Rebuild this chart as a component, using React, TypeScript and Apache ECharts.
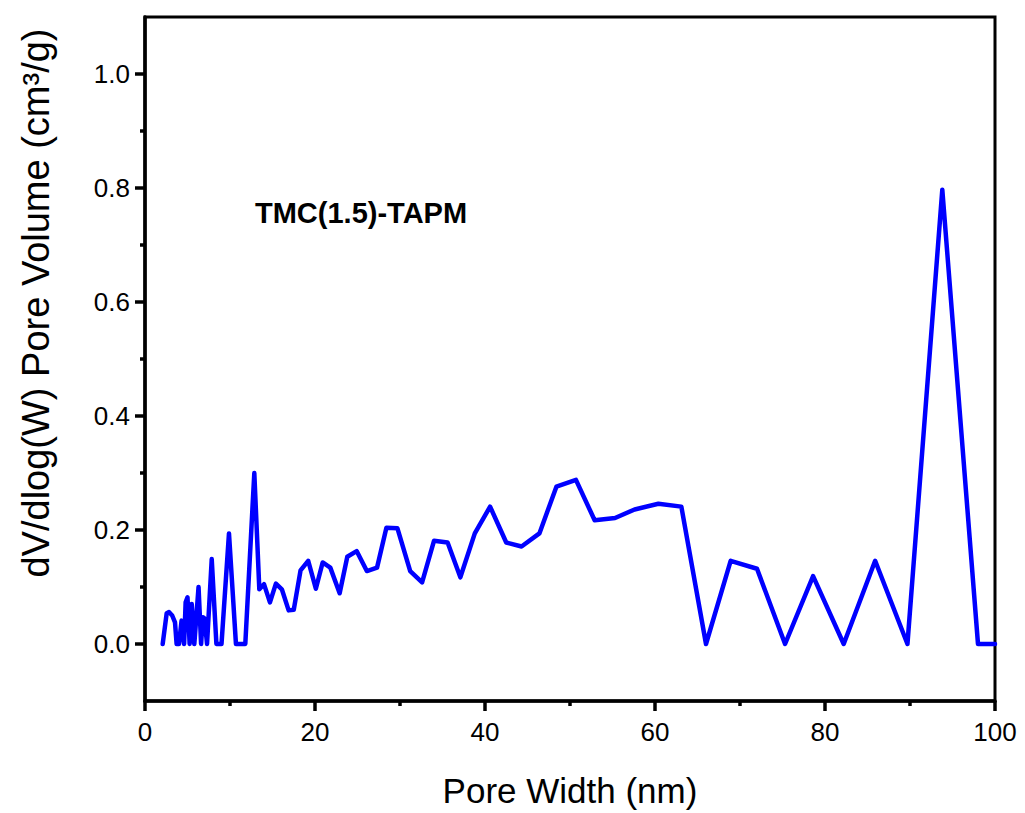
import React, { useEffect, useRef } from "react";
import * as echarts from "echarts";

const poreWidth = [
  2.08, 2.55, 2.82, 3.2, 3.53, 3.72, 4.0, 4.3, 4.6, 4.78, 5.0, 5.25, 5.5, 5.8, 6.3, 6.6, 6.8, 7.0, 7.3,
  7.85, 8.4, 9.0, 9.88, 10.7, 11.8, 12.86, 13.45, 14.0, 14.7, 15.4, 16.1, 16.9, 17.5, 18.3, 19.2, 20.1,
  20.9, 21.8, 22.9, 23.8, 24.9, 26.1, 27.3, 28.4, 29.7, 31.2, 32.6, 34.0, 35.6, 37.1, 38.8, 40.6, 42.5,
  44.3, 46.4, 48.4, 50.7, 52.9, 55.3, 57.6, 60.4, 63.1, 66.0, 68.9, 72.0, 75.3, 78.6, 82.2, 85.9, 89.7,
  93.8, 98.0, 100,
];
const poreVolume = [
  0, 0.054, 0.056, 0.05, 0.038, 0, 0, 0.041, 0, 0.073, 0.082, 0, 0.07, 0, 0.1, 0, 0.047, 0.045, 0,
  0.149, 0, 0, 0.194, 0, 0, 0.3, 0.096, 0.105, 0.073, 0.106, 0.096, 0.059, 0.06, 0.129, 0.146, 0.097,
  0.143, 0.134, 0.089, 0.153, 0.163, 0.128, 0.134, 0.204, 0.203, 0.128, 0.108, 0.181, 0.178, 0.117, 0.194,
  0.241, 0.178, 0.171, 0.194, 0.276, 0.288, 0.217, 0.221, 0.236, 0.246, 0.241, 0, 0.146, 0.132, 0, 0.119,
  0, 0.146, 0, 0.797, 0, 0,
];
const yMajorTicks = [0, 0.2, 0.4, 0.6, 0.8, 1.0];
const yMinorTicks = [0.1, 0.3, 0.5, 0.7, 0.9];
const sampleLabel = "TMC(1.5)-TAPM";
const xName = "Pore Width (nm)";
const yName = "dV/dlog(W) Pore Volume (cm³/g)";

const FONT = "'Liberation Sans', Arial, sans-serif";

export default function App() {
  const ref = useRef<HTMLDivElement>(null);
  useEffect(() => {
    if (!ref.current) return;
    const chart = echarts.init(ref.current, null, { renderer: "svg" });
    const data = poreWidth.map((x, i) => [x, poreVolume[i]]);
    chart.setOption({
      animation: false,
      backgroundColor: "#fff",
      grid: {
        left: 145,
        right: 30,
        top: 17,
        bottom: 108,
        show: true,
        borderColor: "#000",
        borderWidth: 3,
      },
      graphic: [
        {
          type: "text",
          left: 255,
          top: 198,
          style: {
            text: sampleLabel,
            fontFamily: FONT,
            fontWeight: "bold",
            fontSize: 29,
            fill: "#000",
          },
        },
      ],
      xAxis: {
        type: "value",
        min: 0,
        max: 100,
        interval: 20,
        name: xName,
        nameLocation: "middle",
        nameGap: 72,
        nameTextStyle: { fontFamily: FONT, fontSize: 35, color: "#000" },
        axisLine: { show: true, onZero: false, lineStyle: { color: "#000", width: 3.5 } },
        axisTick: { show: true, inside: false, length: 10, lineStyle: { color: "#000", width: 3.5 } },
        minorTick: { show: true, splitNumber: 2, length: 5, lineStyle: { color: "#000", width: 3.5 } },
        axisLabel: { fontFamily: FONT, fontSize: 26, color: "#000", margin: 18 },
        splitLine: { show: false },
        minorSplitLine: { show: false },
      },
      yAxis: [
        {
          type: "value",
          min: -0.1,
          max: 1.1,
          name: yName,
          nameLocation: "middle",
          nameGap: 90,
          nameTextStyle: {
            fontFamily: FONT,
            fontSize: 38,
            color: "#000",
            padding: [0, 0, 0, 112],
          },
          axisLine: { show: true, onZero: false, lineStyle: { color: "#000", width: 3.5 } },
          axisTick: {
            show: true,
            inside: false,
            length: 10,
            customValues: yMajorTicks,
            lineStyle: { color: "#000", width: 3.5 },
          },
          axisLabel: {
            fontFamily: FONT,
            fontSize: 26,
            color: "#000",
            margin: 15,
            customValues: yMajorTicks,
            formatter: (v: number) => v.toFixed(1),
          },
          splitLine: { show: false },
        },
        {
          type: "value",
          min: -0.1,
          max: 1.1,
          position: "left",
          axisLine: { show: false },
          axisTick: {
            show: true,
            inside: false,
            length: 5,
            customValues: yMinorTicks,
            lineStyle: { color: "#000", width: 3.5 },
          },
          axisLabel: { show: false },
          splitLine: { show: false },
        },
      ],
      series: [
        {
          type: "line",
          data,
          yAxisIndex: 0,
          showSymbol: false,
          symbol: "none",
          lineStyle: { color: "#0000FF", width: 4.5, join: "round", cap: "round" },
          clip: true,
        },
      ],
    });
    return () => chart.dispose();
  }, []);
  return (
    <div
      ref={ref}
      style={{ position: "fixed", left: 0, top: 0, width: 1025, height: 813, background: "#fff" }}
    />
  );
}
